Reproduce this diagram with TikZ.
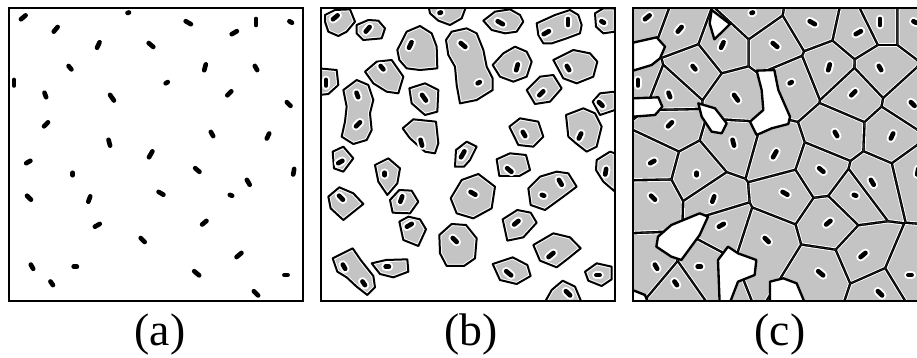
\documentclass[tikz,border=0pt]{standalone}
\usepackage{fontspec}
\setmainfont{Liberation Serif}
\definecolor{graingray}{gray}{0.77}
\tikzset{
  panelbox/.style={draw=black,line width=0.72mm},
  grain/.style={line width=1.4mm,line cap=round},
  halo/.style={white,line width=2.6mm,line cap=round},
  growth/.style={draw=white,line width=1.2mm,line join=round,preaction={fill=graingray},postaction={draw=black,line width=0.6mm}},
  gap/.style={fill=white,draw=black,line width=0.7mm,line join=round},
  caption/.style={anchor=base,font=\fontsize{39}{44}\selectfont}
}
% nucleation sites: x/y/angle/half length, in pixels of panel (a)
\def\sites{23.3/17.3/-40/3, 128.3/12.7/-20/0.8, 188.3/22.7/30/3, 256/22/-90/3, 290.7/22/30/1.5,
  55.7/29.3/-50/3, 234.3/32.7/-30/3, 98.3/45/-65/3, 151/45/40/3, 70/67.7/50/2.2,
  205/67.3/-75/3, 256/68/60/2.4, 14/82.7/-90/2.8, 166.7/82.7/-30/1.2, 45.3/95/70/2.4,
  112/97.7/55/3.4, 229.3/93.3/-45/2.8, 288.7/104/45/2.6, 46/124.3/-45/2.8, 212/134/60/2.4,
  268/136/-65/2.8, 109.3/142.7/75/3, 150.7/154.3/-60/3.4, 28.3/162/-30/2.4, 197.3/170/40/2.8,
  293.7/171.7/-80/2.8, 72.7/174/-90/1.2, 248.3/182.3/60/2.8, 29/197.7/45/2.8, 89.3/199/-70/2.8,
  161/193.3/30/2.8, 231/195.3/20/1.2, 97.3/225.3/-30/2.8, 204.3/222.7/-40/2.8, 142.7/240/45/2.8,
  239/255/-40/3.2, 32/266.7/60/2.4, 75.3/266.7/0/1.6, 196.7/273.3/40/3.2, 286/275/0/1.6,
  51.7/283.3/55/2.2, 256/293.3/45/3}
% cell of one site: cut away the far side of every bisector
\makeatletter
\newcommand\cutcell[3]{\@for\othersite:=\sites\do{\expandafter\cutby\othersite\relax{#1}{#2}{#3}}}
\makeatother
\def\cutby#1/#2/#3/#4\relax#5#6#7{%
  \pgfmathparse{and(abs(#1-#5)+abs(#2-#6)>0.01,and(abs(#1-#5)<120,abs(#2-#6)<120))}%
  \ifdim\pgfmathresult pt>0.5pt
    \pgfmathsetmacro\dang{atan2(#6-#2,#1-#5)}%
    \clip[shift={({(#1+#5)/2},{(#2+#6)/2})},rotate=\dang] (-#7,-400) rectangle (-400,400);%
  \fi}
\begin{document}
\begin{tikzpicture}[x=0.3mm,y=-0.3mm]
  \useasboundingbox (0,0) rectangle (917,358);
  % (b) grains growing
  \begin{scope}[shift={(312,0)}]
    \clip (9,8) rectangle (303,301);
    \begin{scope}[shift={(-2,0)},scale=1/3]
      \path[growth] (45,45) -- (75,30) -- (120,28) -- (135,65) -- (110,95) -- (85,108) -- (55,95) -- (45,65) -- cycle;
      \path[growth] (140,75) -- (175,60) -- (205,62) -- (225,85) -- (215,115) -- (160,120) -- (140,100) -- cycle;
      \path[growth] (355,15) -- (470,15) -- (455,55) -- (420,75) -- (385,62) -- (360,40) -- cycle;
      \path[growth] (520,62) -- (555,35) -- (600,28) -- (630,45) -- (640,65) -- (620,95) -- (585,100) -- (545,90) -- cycle;
      \path[growth] (680,70) -- (735,45) -- (780,30) -- (805,45) -- (815,75) -- (810,100) -- (770,115) -- (725,130) -- (700,130) -- (685,105) -- cycle;
      \path[growth] (855,40) -- (880,25) -- (915,25) -- (915,95) -- (880,100) -- (858,80) -- cycle;
      \path[growth] (262,150) -- (290,95) -- (330,78) -- (365,100) -- (380,140) -- (382,205) -- (330,210) -- (290,205) -- (268,180) -- cycle;
      \path[growth] (408,120) -- (425,95) -- (470,85) -- (500,100) -- (520,150) -- (530,200) -- (548,235) -- (548,270) -- (500,300) -- (450,310) -- (440,255) -- (435,200) -- (415,165) -- cycle;
      \path[growth] (165,215) -- (200,185) -- (245,180) -- (280,230) -- (265,280) -- (230,275) -- (190,250) -- cycle;
      \path[growth] (548,195) -- (580,160) -- (615,140) -- (650,155) -- (665,185) -- (650,230) -- (610,245) -- (570,230) -- cycle;
      \path[growth] (730,180) -- (790,150) -- (840,160) -- (862,185) -- (850,230) -- (800,250) -- (760,235) -- cycle;
      \path[growth] (25,205) -- (80,210) -- (85,255) -- (55,282) -- (25,285) -- cycle;
      \path[growth] (100,270) -- (140,240) -- (175,255) -- (190,300) -- (180,340) -- (185,390) -- (170,420) -- (130,432) -- (95,410) -- (105,365) -- (110,320) -- cycle;
      \path[growth] (298,265) -- (345,250) -- (385,270) -- (382,335) -- (345,345) -- (305,310) -- cycle;
      \path[growth] (650,270) -- (690,230) -- (730,225) -- (755,265) -- (720,305) -- (675,312) -- cycle;
      \path[growth] (848,305) -- (870,280) -- (915,275) -- (915,330) -- (870,345) -- cycle;
      \path[growth] (598,380) -- (630,355) -- (685,365) -- (700,410) -- (670,440) -- (625,435) -- cycle;
      \path[growth] (768,345) -- (820,325) -- (855,340) -- (875,380) -- (860,440) -- (830,455) -- (798,430) -- (775,410) -- cycle;
      \path[growth] (278,385) -- (310,358) -- (378,365) -- (385,430) -- (375,460) -- (345,455) -- (300,415) -- cycle;
      \path[growth] (438,450) -- (470,425) -- (500,440) -- (480,480) -- (462,500) -- (435,500) -- cycle;
      \path[growth] (68,455) -- (100,440) -- (130,475) -- (100,515) -- (72,505) -- cycle;
      \path[growth] (560,478) -- (600,460) -- (648,465) -- (660,510) -- (628,528) -- (568,528) -- cycle;
      \path[growth] (860,480) -- (900,455) -- (915,460) -- (915,575) -- (880,545) -- (858,510) -- cycle;
      \path[growth] (195,495) -- (235,475) -- (270,505) -- (262,550) -- (232,585) -- (205,545) -- cycle;
      \path[growth] (655,565) -- (690,530) -- (740,515) -- (775,520) -- (800,560) -- (760,590) -- (705,630) -- (662,615) -- cycle;
      \path[growth] (55,590) -- (88,562) -- (130,580) -- (160,612) -- (125,640) -- (100,660) -- (62,625) -- cycle;
      \path[growth] (240,600) -- (268,570) -- (305,572) -- (325,605) -- (300,640) -- (248,638) -- cycle;
      \path[growth] (422,595) -- (455,540) -- (505,522) -- (555,560) -- (545,625) -- (490,655) -- (440,640) -- cycle;
      \path[growth] (268,665) -- (295,650) -- (330,658) -- (348,688) -- (325,738) -- (280,720) -- cycle;
      \path[growth] (578,658) -- (622,630) -- (662,638) -- (680,668) -- (640,712) -- (592,722) -- cycle;
      \path[growth] (388,705) -- (425,672) -- (468,675) -- (500,715) -- (495,775) -- (462,798) -- (410,798) -- (390,760) -- cycle;
      \path[growth] (670,735) -- (730,700) -- (780,712) -- (812,745) -- (775,775) -- (740,802) -- (690,782) -- cycle;
      \path[growth] (68,775) -- (128,745) -- (152,780) -- (190,828) -- (195,862) -- (172,885) -- (140,860) -- (110,832) -- (82,815) -- cycle;
      \path[growth] (185,790) -- (228,780) -- (292,778) -- (295,815) -- (250,832) -- (210,822) -- cycle;
      \path[growth] (548,792) -- (608,772) -- (652,795) -- (662,828) -- (620,852) -- (570,840) -- cycle;
      \path[growth] (825,815) -- (860,790) -- (905,800) -- (905,838) -- (875,858) -- (835,842) -- cycle;
      \path[growth] (700,915) -- (725,870) -- (758,842) -- (795,860) -- (818,915) -- cycle;
    \end{scope}
  \end{scope}
  % (c) grains impinging
  \begin{scope}[shift={(624,0)}]
    \clip (9,8) rectangle (303,301);
    \fill[graingray] (9,8) rectangle (303,301);
    \foreach \gx/\gy/\ga/\gl in \sites {
      \begin{scope}
        \cutcell{\gx}{\gy}{0}
        \fill[black] (0,0) rectangle (310,310);
        \cutcell{\gx}{\gy}{1.3}
        \fill[white] (0,0) rectangle (310,310);
        \cutcell{\gx}{\gy}{2.2}
        \fill[graingray] (0,0) rectangle (310,310);
      \end{scope}
    }
    \begin{scope}[shift={(-9,0)},scale=1/3]
      \path[gap] (54,128) -- (125,112) -- (150,140) -- (135,175) -- (110,195) -- (54,212) -- cycle;
      \path[gap] (290,30) -- (345,72) -- (325,92) -- (298,118) -- (284,70) -- cycle;
      \path[gap] (54,295) -- (130,292) -- (142,320) -- (120,345) -- (54,350) -- cycle;
      \path[gap] (250,310) -- (300,325) -- (335,370) -- (320,400) -- (290,395) -- (260,350) -- cycle;
      \path[gap] (425,212) -- (478,210) -- (490,270) -- (525,350) -- (520,372) -- (470,385) -- (425,405) -- (405,365) -- (445,330) -- (440,270) -- cycle;
      \path[gap] (129,710) -- (169,675) -- (254,640) -- (279,650) -- (254,705) -- (199,780) -- (169,770) -- (124,740) -- cycle;
      \path[gap] (309,780) -- (339,740) -- (369,760) -- (424,780) -- (419,825) -- (369,845) -- (344,910) -- (314,910) -- cycle;
      \path[gap] (465,845) -- (505,835) -- (545,850) -- (570,910) -- (465,910) -- cycle;
      \path[gap] (40,865) -- (90,885) -- (100,910) -- (40,910) -- cycle;
    \end{scope}
  \end{scope}
  % nuclei in all three panels
  \foreach \px in {0,312,624} {
    \begin{scope}[shift={(\px,0)}]
      \clip (9,8) rectangle (303,301);
      \foreach \gx/\gy/\ga/\gl in \sites {
        \draw[halo] (\gx,\gy) ++(\ga:\gl) -- ++(\ga+180:2*\gl);
        \draw[grain] (\gx,\gy) ++(\ga:\gl) -- ++(\ga+180:2*\gl);
      }
    \end{scope}
    \draw[panelbox] (\px+9,8) rectangle (\px+303,301);
  }
  \node[caption] (capa) at (160,345) {(a)};
  \node[caption] (capb) at (471,345) {(b)};
  \node[caption] (capc) at (780,345) {(c)};
\end{tikzpicture}
\end{document}
